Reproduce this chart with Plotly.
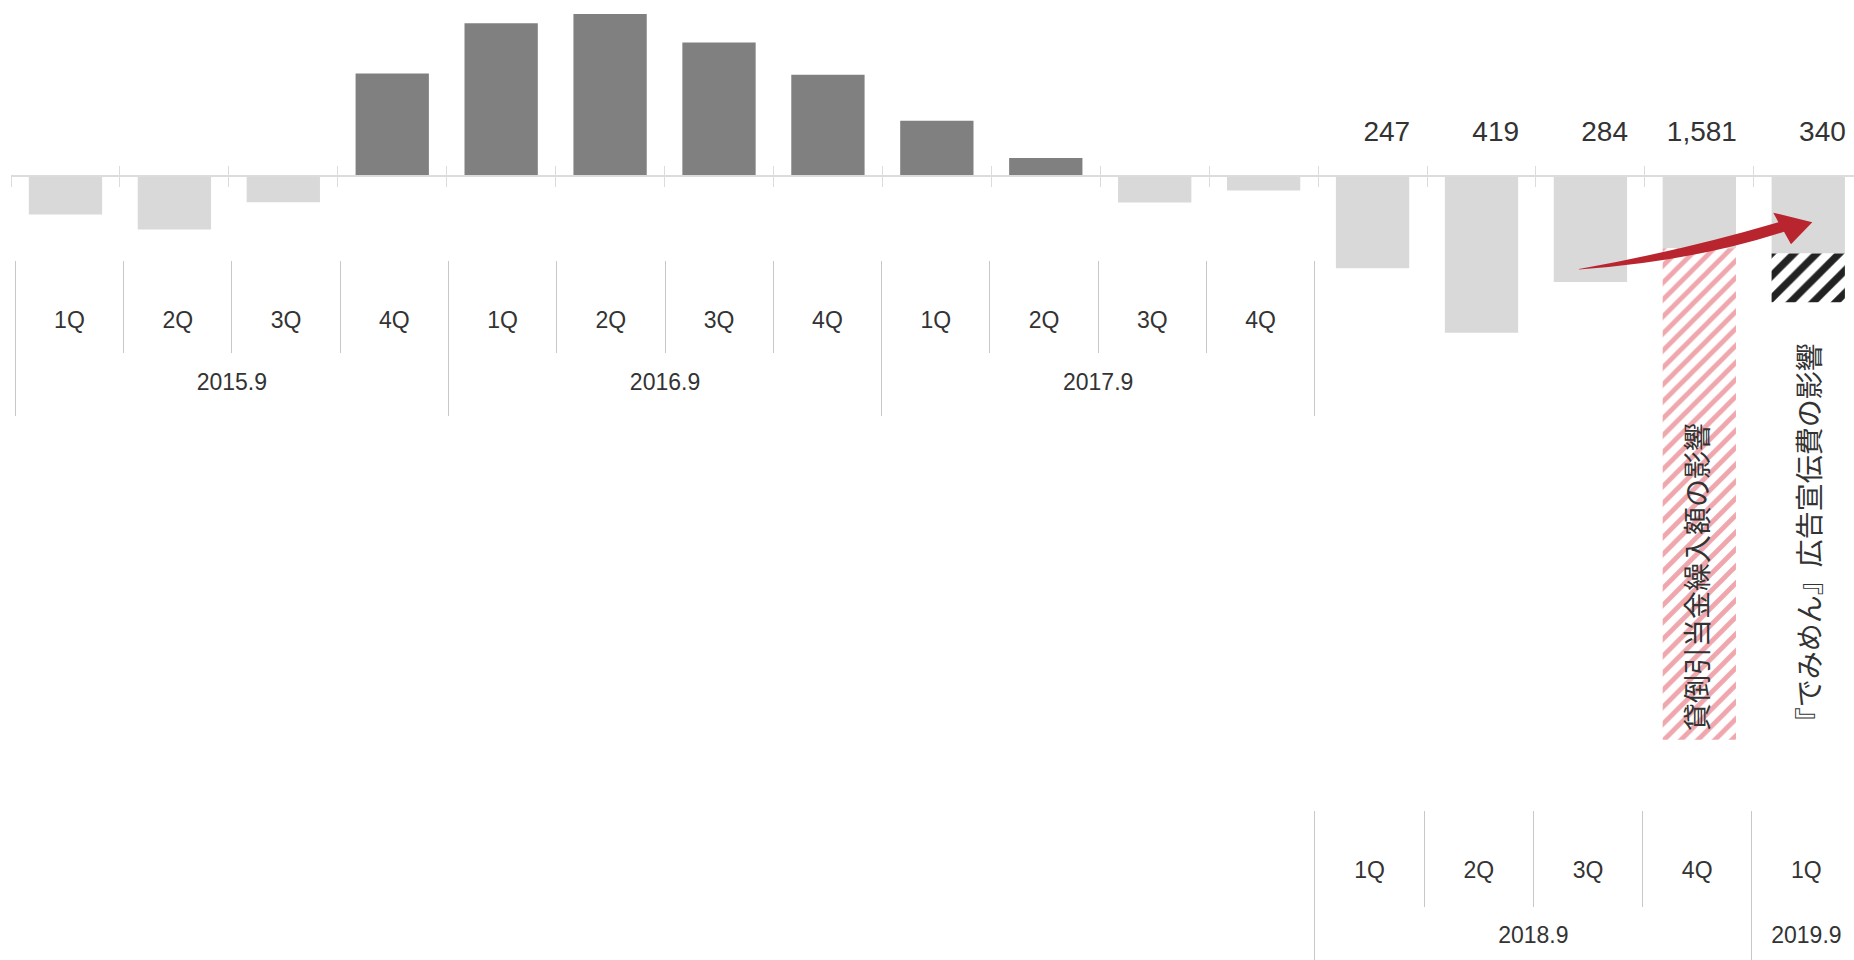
import plotly.graph_objects as go

# ---------------- data ----------------
fiscal_years = ["2015.9"] * 4 + ["2016.9"] * 4 + ["2017.9"] * 4 + ["2018.9"] * 4 + ["2019.9"]
quarters = ["1Q", "2Q", "3Q", "4Q"] * 4 + ["1Q"]
profit = [None, None, None, 272, 406, 431, 355, 269, 146, 47, None, None, None, None, None, None, None]
loss = [-104, -144, -71, None, None, None, None, None, None, None, -72, -40, -247, -419, -284, -194, -208]
bad_debt_effect = [None] * 15 + [-1310, None]
ad_cost_effect = [None] * 16 + [-130]
reported_loss = [247, 419, 284, 1581, 340]          # labels shown over 2018.9 1Q .. 2019.9 1Q
upper_years = ["2015.9", "2016.9", "2017.9"]
lower_years = ["2018.9", "2019.9"]
note_bad_debt = "貸倒引当金繰入額の影響"
note_ad = "『でみめん』広告宣伝費の影響"

# ---------------- layout constants ----------------
W, H = 1854, 960
ML = 11
PW = W - ML
X_RANGE = [-0.5, 16.42]
X_RANGE_UPPER = [-0.5397, 16.48]
X_RANGE_LOWER = [-0.441, 16.436]
Y_RANGE = [-2091, 468]
LABEL_Y = 112

NUM_FONT = "Liberation Sans, Arial, sans-serif"
JP_FONT = "Noto Sans CJK JP, sans-serif"
TXT = "#333333"
DIV = "#c8c8c8"
BASE = "#dcdcdc"
AX_FS = 23


def py(p):
    return 1 - p / H


def px(p):
    return (p - ML) / PW


n = len(quarters)
idx = list(range(n))
zero_pos = (0 - Y_RANGE[0]) / (Y_RANGE[1] - Y_RANGE[0])

fig = go.Figure()
xcat = [fiscal_years, quarters]

fig.add_bar(x=xcat, y=profit, marker=dict(color="#808080", line=dict(width=0)), name="profit")
fig.add_bar(x=xcat, y=loss, marker=dict(color="#d9d9d9", line=dict(width=0)), name="loss")
fig.add_bar(x=xcat, y=bad_debt_effect, name="bad debt",
            marker=dict(color="#efa7ad", line=dict(width=0),
                        pattern=dict(shape="/", fgcolor="#efa7ad", bgcolor="white",
                                     size=12, solidity=0.4, fillmode="replace")))
fig.add_bar(x=xcat, y=ad_cost_effect, name="ad",
            marker=dict(color="#222222", line=dict(width=0),
                        pattern=dict(shape="/", fgcolor="#222222", bgcolor="white",
                                     size=16, solidity=0.45, fillmode="replace")))

lower_idx = [i for i in idx if fiscal_years[i] in lower_years]
fig.add_scatter(x=[i + 0.345 for i in lower_idx], y=[LABEL_Y] * len(lower_idx),
                xaxis="x2", yaxis="y", mode="text",
                text=[f"{v:,}" for v in reported_loss], textposition="middle left",
                textfont=dict(family=NUM_FONT, size=28, color=TXT), hoverinfo="skip",
                showlegend=False)

# empty helper traces so that every label axis gets its own (overlaid) subplot
for ax in ["x3", "x4", "x5", "x6"]:
    fig.add_scatter(x=[None], y=[None], xaxis=ax, yaxis="y", mode="markers",
                    hoverinfo="skip", showlegend=False)


def section(years, line_px, q_len, y_len, q_stand, y_stand, xr):
    members = [i for i in idx if fiscal_years[i] in years]
    centers, gb = [], []
    for yv in years:
        m = [i for i in members if fiscal_years[i] == yv]
        centers.append(sum(m) / len(m))
        gb += [m[0] - 0.5, m[-1] + 0.5]
    gb = sorted(set(gb))
    allb = sorted(set([i - 0.5 for i in members] + [i + 0.5 for i in members]))
    common = dict(overlaying="x", anchor="free", position=py(line_px), range=xr,
                  showline=False, showgrid=False, zeroline=False, ticks="",
                  tickmode="array", fixedrange=True)
    qax = dict(common, tickvals=members, ticktext=[quarters[i] for i in members],
               ticklabelstandoff=q_stand,
               tickfont=dict(family=NUM_FONT, size=AX_FS, color=TXT),
               minor=dict(tickmode="array", tickvals=allb, ticks="outside", ticklen=q_len,
                          tickcolor=DIV, tickwidth=1, showgrid=False))
    yax = dict(common, tickvals=centers, ticktext=years,
               ticklabelstandoff=y_stand,
               tickfont=dict(family=NUM_FONT, size=AX_FS, color=TXT),
               minor=dict(tickmode="array", tickvals=gb, ticks="outside", ticklen=y_len,
                          tickcolor=DIV, tickwidth=1, showgrid=False))
    return qax, yax


q1, y1 = section(upper_years, 260, 92, 155, 44, 106, X_RANGE_UPPER)
q2, y2 = section(lower_years, 810, 96, 160, 44, 109, X_RANGE_LOWER)

arrow_pts = [
    ("M", 1579, 269.5), ("Q", 1692.5, 261.4, 1784, 231.7), ("L", 1791, 244.3),
    ("L", 1812.3, 222.3), ("L", 1773.3, 212.7), ("L", 1778.4, 222.2),
    ("Q", 1681.3, 250.8, 1579, 269),
]
path = ""
for seg in arrow_pts:
    cmd, vals = seg[0], seg[1:]
    coords = []
    for k in range(0, len(vals), 2):
        coords.append(f"{px(vals[k]):.5f},{py(vals[k + 1]):.5f}")
    path += cmd + " " + " ".join(coords) + " "
path += "Z"

fig.update_layout(
    width=W, height=H,
    margin=dict(l=ML, r=0, t=0, b=0),
    paper_bgcolor="white", plot_bgcolor="white",
    barmode="relative", bargap=0.327,
    showlegend=False, hovermode=False,
    xaxis=dict(type="multicategory", range=X_RANGE, anchor="free", position=zero_pos,
               showline=True, linecolor=BASE, linewidth=2,
               ticks="outside", ticklen=10, tickwidth=1, tickcolor=BASE, tickson="boundaries",
               showticklabels=False, showdividers=False, showgrid=False, zeroline=False,
               fixedrange=True),
    xaxis2=dict(overlaying="x", anchor="free", position=zero_pos, range=X_RANGE,
                tickmode="array", tickvals=[i - 0.5 for i in idx] + [n - 0.5],
                ticks="inside", ticklen=10, tickwidth=1, tickcolor=BASE,
                showticklabels=False, showline=False, showgrid=False, zeroline=False,
                fixedrange=True),
    xaxis3=q1, xaxis4=y1, xaxis5=q2, xaxis6=y2,
    yaxis=dict(range=Y_RANGE, visible=False, showgrid=False, zeroline=False, fixedrange=True),
    shapes=[dict(type="path", xref="paper", yref="paper", path=path,
                 fillcolor="#b9252f", line=dict(width=0), layer="above")],
    annotations=[
        dict(text=note_bad_debt, xref="x2", x=15 - 0.03, yref="paper", y=py(733),
             xanchor="center", yanchor="bottom", textangle=-90, showarrow=False,
             font=dict(family=JP_FONT, size=28, color=TXT)),
        dict(text=note_ad, xref="x2", x=16, yref="paper", y=py(737),
             xanchor="center", yanchor="bottom", textangle=-90, showarrow=False,
             font=dict(family=JP_FONT, size=28, color=TXT)),
    ],
)

fig.write_html("out.html", config={"displayModeBar": False},
               post_script="document.body.style.margin='0px';"
               "document.body.style.overflow='hidden';")
